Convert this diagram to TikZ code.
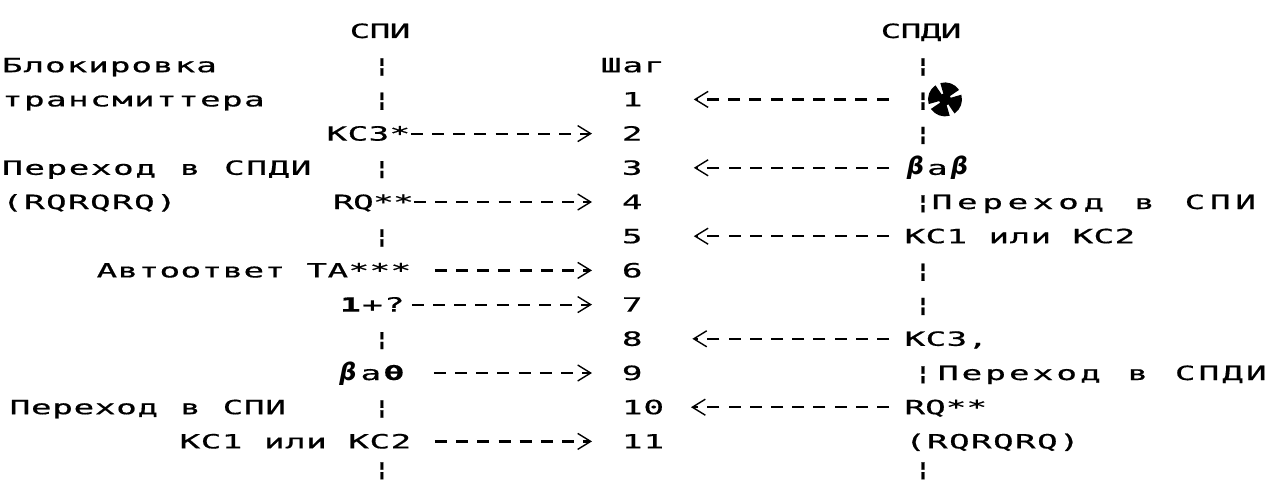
\documentclass[tikz,border=0pt]{standalone}
\usepackage{fontspec}
\usetikzlibrary{arrows.meta}
\newfontfamily\dmfont{DejaVu Sans Mono}[FakeStretch=1.75,FakeBold=0.6]
\newfontfamily\handfont{DejaVu Sans}
\newcommand\hbeta{\fontsize{12}{12}\handfont\bfseries\itshape}
\newlength\dmpx \setlength\dmpx{0.5pt}
\makeatletter
\newcommand\dmtext[2]{\@tfor\dm@c:=#2\do{\makebox[#1\dmpx][c]{\dm@c}}}
\makeatother
\tikzset{
  txt/.style={inner sep=0pt, text height=7pt, text depth=0pt, anchor=base west,
              font=\fontsize{9.8}{11}\dmfont},
  colon/.style={txt, anchor=base},
  arrbase/.style={draw, line width=1.1pt, dash pattern=on 6pt off 4.6pt,
              -{Straight Barb[length=6.5pt,width=8pt,line width=0.7pt,sep=3pt]}},
  rarr/.style={arrbase, shorten >=11.5pt},
  larr/.style={arrbase, shorten <=7.5pt, shorten >=22.2pt},
  fanbox/.style={inner sep=0pt, minimum width=17pt, minimum height=16pt}
}
\begin{document}
\begin{tikzpicture}[x=0.5pt,y=-0.5pt]
\fill[white] (0,0) rectangle (1270,482);
\useasboundingbox (0,0) rectangle (1270,482);
% headers
\node[colon] (spi) at (380,38) {\dmtext{20}{СПИ}};
\node[colon] (spdi) at (921,38) {\dmtext{20}{СПДИ}};
% left column texts
\node[txt] (blk) at (1,72.2) {\dmtext{21.6}{Блокировка}};
\node[txt] (trn) at (1,106.4) {\dmtext{22}{трансмиттера}};
\node[txt] (kc3) at (326,140.6) {\dmtext{21}{КС3*}};
\node[txt] (per1) at (1,174.8) {\dmtext{22.2}{Переход~в~СПДИ}};
\node[txt] (rqr1) at (1,209) {\dmtext{22}{(RQRQRQ)}};
\node[txt] (rq1) at (333,209) {\dmtext{20}{RQ**}};
\node[txt] (avt) at (96,277.4) {\dmtext{21}{Автоответ~ТА***}};
\node[txt] (q) at (339,311.6) {\dmtext{22}{{\bfseries 1}+?}};
\node[txt] (bab1) at (336,380) {\dmtext{23}{{\hbeta β}а{\bfseries θ}}};
\node[txt] (per2) at (9,414.2) {\dmtext{21.3}{Переход~в~СПИ}};
\node[txt] (kc12l) at (179,448.4) {\dmtext{21.1}{КС1~или~КС2}};
% left lifeline
\node[colon] (cl1) at (382,72.2) {¦};
\node[colon] (cl2) at (382,106.4) {¦};
\node[colon] (cl4) at (382,174.8) {¦};
\node[colon] (cl6) at (382,243.2) {¦};
\node[colon] (cl9) at (382,345.8) {¦};
\node[colon] (cl11) at (382,414.2) {¦};
\node[colon] (cl13) at (382,476) {¦};
% steps
\node[txt] (shag) at (600,72.2) {\dmtext{21.6}{Шаг}};
\node[txt] (s1) at (621,106.4) {\dmtext{21.6}{1}};
\node[txt] (s2) at (621,140.6) {\dmtext{21.6}{2}};
\node[txt] (s3) at (621,174.8) {\dmtext{21.6}{3}};
\node[txt] (s4) at (621,209) {\dmtext{21.6}{4}};
\node[txt] (s5) at (621,243.2) {\dmtext{21.6}{5}};
\node[txt] (s6) at (621,277.4) {\dmtext{21.6}{6}};
\node[txt] (s7) at (621,311.6) {\dmtext{21.6}{7}};
\node[txt] (s8) at (621,345.8) {\dmtext{21.6}{8}};
\node[txt] (s9) at (621,380) {\dmtext{21.6}{9}};
\node[txt] (s10) at (621,414.2) {\dmtext{21.6}{10}};
\node[txt] (s11) at (621,448.4) {\dmtext{21.6}{11}};
% right lifeline
\node[colon] (cr1) at (923,72.2) {¦};
\node[colon] (cr2) at (923,106.4) {¦};
\node[colon] (cr3) at (923,140.6) {¦};
\node[colon] (cr5) at (923,209) {¦};
\node[colon] (cr7) at (923,277.4) {¦};
\node[colon] (cr8) at (923,311.6) {¦};
\node[colon] (cr10) at (923,380) {¦};
\node[colon] (cr13) at (923,476) {¦};
% right column texts
\node[fanbox] (fan) at (945,99.4) {};
\foreach \a in {20,110,200,290}
  \fill (fan.center) -- ++(\a-36:17) arc[start angle=\a-36, end angle=\a+36, radius=17] -- cycle;
\fill (fan.center) circle[radius=6];
\node[txt] (bab2) at (904,174.8) {\dmtext{22}{{\hbeta β}а{\hbeta β}}};
\node[txt] (per3) at (929,209) {\dmtext{25.3}{Переход~в~СПИ}};
\node[txt] (kc12r) at (904,243.2) {\dmtext{21}{КС1~или~КС2}};
\node[txt] (kc3r) at (904,345.8) {\dmtext{21}{КС3,}};
\node[txt] (per4) at (936,380) {\dmtext{23.7}{Переход~в~СПДИ}};
\node[txt] (rq2) at (904,414.2) {\dmtext{20.7}{RQ**}};
\node[txt] (rqr2) at (904,448.4) {\dmtext{22}{(RQRQRQ)}};
% arrows to the right
\draw[rarr] (kc3.east) -- (s2.west);
\draw[rarr] (rq1.east) -- (s4.west);
\draw[rarr, shorten <=11.5pt] (avt.east) -- (s6.west);
\draw[rarr, shorten <=3pt] (q.east) -- (s7.west);
\draw[rarr, shorten <=14pt] (bab1.east) -- (s9.west);
\draw[rarr, shorten <=11.5pt] (kc12l.east) -- (s11.west);
% arrows to the left
\draw[larr, shorten <=19.5pt] (fan.west) -- (s1.east);
\draw[larr] (bab2.west) -- (s3.east);
\draw[larr] (kc12r.west) -- (s5.east);
\draw[larr, shorten >=21.5pt] (kc3r.west) -- (s8.east);
\draw[larr, shorten >=10pt] (rq2.west) -- (s10.east);
\end{tikzpicture}
\end{document}
